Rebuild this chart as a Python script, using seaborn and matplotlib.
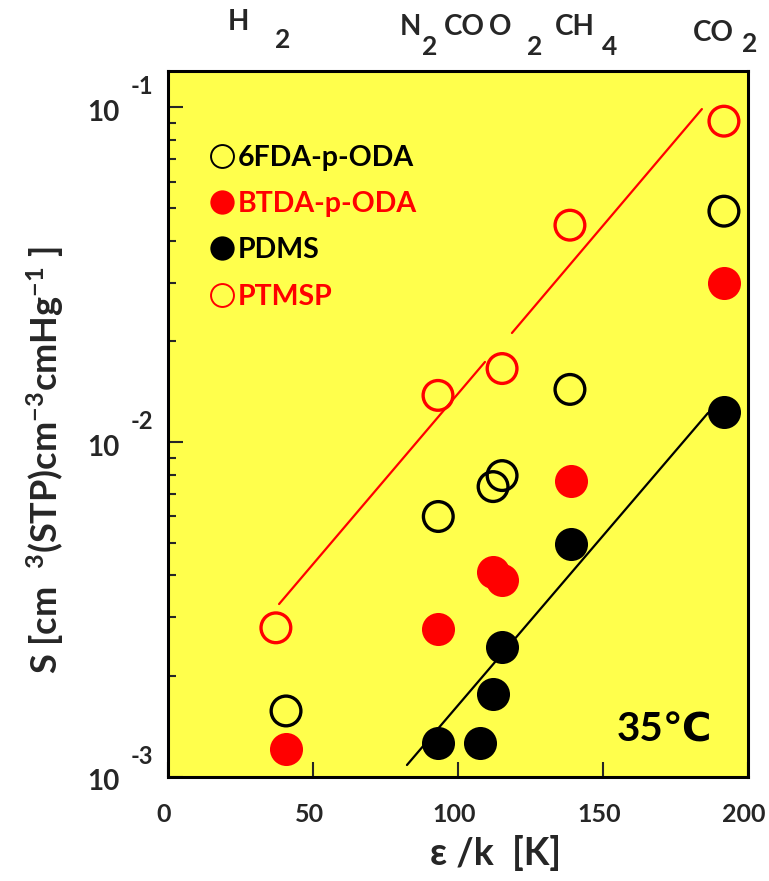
import matplotlib
matplotlib.use("Agg")
import matplotlib.pyplot as plt
import seaborn as sns
from matplotlib.lines import Line2D
from matplotlib.ticker import LogLocator, NullFormatter, FixedLocator, FixedFormatter
from matplotlib.transforms import ScaledTranslation

# ---------------- data ----------------
series_names = ["6FDA-p-ODA", "BTDA-p-ODA", "PDMS", "PTMSP"]

fda_x = [40.7, 93.2, 112.1, 115.2, 138.6, 191.7]
fda_y = [1.575e-3, 6.0e-3, 7.37e-3, 7.95e-3, 1.438e-2, 4.90e-2]

btda_x = [40.7, 93.2, 112.1, 115.2, 139.0, 191.7]
btda_y = [1.213e-3, 2.77e-3, 4.10e-3, 3.88e-3, 7.68e-3, 3.00e-2]

pdms_x = [93.2, 107.6, 112.1, 115.2, 139.0, 191.7]
pdms_y = [1.264e-3, 1.264e-3, 1.77e-3, 2.45e-3, 4.98e-3, 1.227e-2]

ptmsp_x = [37.2, 93.1, 115.2, 138.6, 191.7]
ptmsp_y = [2.79e-3, 1.38e-2, 1.66e-2, 4.45e-2, 9.10e-2]

# correlation lines (end points)
ptmsp_fit1_x = [38.3, 109.3]
ptmsp_fit1_y = [3.286e-3, 1.737e-2]
ptmsp_fit2_x = [118.6, 184.1]
ptmsp_fit2_y = [2.120e-2, 9.89e-2]
pdms_fit_x = [82.4, 186.2]
pdms_fit_y = [1.086e-3, 1.223e-2]

x_ticks = [0, 50, 100, 150, 200]
y_decades = [-3, -2, -1]
gas_labels = [("H", "2"), ("N", "2"), ("CO", ""), ("O", "2"), ("CH", "4"), ("CO", "2")]
temperature_label = "35\u2103"

# ---------------- style ----------------
sns.set_style("ticks")
FONT = ["Lato", "DejaVu Sans"]
plt.rcParams["font.family"] = FONT
plt.rcParams["font.weight"] = "bold"
plt.rcParams["mathtext.fontset"] = "custom"
plt.rcParams["mathtext.rm"] = "Lato:bold"
plt.rcParams["mathtext.it"] = "Lato:bold"
plt.rcParams["mathtext.bf"] = "Lato:bold"
plt.rcParams["mathtext.sf"] = "Lato:bold"
plt.rcParams["mathtext.default"] = "rm"

YELLOW = "#ffff4c"
RED = "#ff0000"
BLACK = "#000000"

W, H = 769, 881
L, R, T, B = 168, 748, 71, 777
fig = plt.figure(figsize=(W / 100, H / 100), dpi=100)
ax = fig.add_axes([L / W, 1 - B / H, (R - L) / W, (B - T) / H])
ax.set_facecolor(YELLOW)

# fit lines
for xs, ys, c in [(ptmsp_fit1_x, ptmsp_fit1_y, RED),
                  (ptmsp_fit2_x, ptmsp_fit2_y, RED),
                  (pdms_fit_x, pdms_fit_y, BLACK)]:
    sns.lineplot(x=xs, y=ys, ax=ax, color=c, linewidth=1.6,
                 estimator=None, sort=False, zorder=2)

S_FILLED = 566
S_OPEN = 458
sns.scatterplot(x=fda_x, y=fda_y, ax=ax, marker="o", s=S_OPEN,
                facecolors="none", edgecolor=BLACK, linewidth=2.4, zorder=3)
sns.scatterplot(x=btda_x, y=btda_y, ax=ax, marker="o", s=S_FILLED,
                color=RED, edgecolor=RED, linewidth=0, zorder=3)
sns.scatterplot(x=pdms_x, y=pdms_y, ax=ax, marker="o", s=S_FILLED,
                color=BLACK, edgecolor=BLACK, linewidth=0, zorder=3)
sns.scatterplot(x=ptmsp_x, y=ptmsp_y, ax=ax, marker="o", s=S_OPEN,
                facecolors="none", edgecolor=RED, linewidth=2.4, zorder=3)

# axes
ax.set_xlim(0, 200)
ax.set_yscale("log")
ax.set_ylim(1e-3, 0.1285)

ax.xaxis.set_major_locator(FixedLocator(x_ticks))
ax.xaxis.set_major_formatter(FixedFormatter([str(v) for v in x_ticks]))
ax.tick_params(axis="x", which="both", direction="in", length=11, width=1.5,
               pad=19, labelsize=18, top=False, bottom=True)

ax.yaxis.set_major_locator(FixedLocator([10.0 ** d for d in y_decades]))
ax.yaxis.set_major_formatter(FixedFormatter(["10"] * len(y_decades)))
ax.yaxis.set_minor_locator(LogLocator(base=10, subs=range(2, 10)))
ax.yaxis.set_minor_formatter(NullFormatter())
ax.tick_params(axis="y", which="major", direction="in", length=11, width=1.5,
               pad=35, labelsize=20, right=False, left=True)
ax.tick_params(axis="y", which="minor", direction="in", length=6, width=1.5,
               right=False, left=True)

for lbl in ax.get_xticklabels():
    lbl.set_fontweight("bold")
    lbl.set_transform(lbl.get_transform() + ScaledTranslation(-4 / 100, 0, fig.dpi_scale_trans))
for lbl in ax.get_yticklabels():
    lbl.set_fontweight("bold")
    lbl.set_transform(lbl.get_transform() + ScaledTranslation(0, -3 / 100, fig.dpi_scale_trans))

for d in y_decades:
    ax.annotate(f"-{abs(d)}", xy=(0, 10.0 ** d), xycoords=ax.get_yaxis_transform(),
                xytext=(-19, 15), textcoords="offset points", ha="center", va="center",
                fontsize=17, fontweight="bold", annotation_clip=False)

for sp in ax.spines.values():
    sp.set_linewidth(2.2)
    sp.set_color(BLACK)

ax.set_xlabel("\u03b5 /k  [K]", fontsize=27, fontweight="bold")
ax.xaxis.set_label_coords((496 - L) / (R - L), (B - 853) / (B - T))
ax.xaxis.label.set_va("center")
ax.set_ylabel(r"S [cm  $^{3}$(STP)cm$^{-3}$cmHg$^{-1}$ ]", fontsize=26, fontweight="bold")
ax.yaxis.set_label_coords((45 - L) / (R - L), (B - 460) / (B - T))
ax.yaxis.label.set_va("center")

# legend
handles = [
    Line2D([], [], ls="none", marker="o", ms=16.5, mfc="none", mec=BLACK, mew=1.4),
    Line2D([], [], ls="none", marker="o", ms=17.5, mfc=RED, mec=RED, mew=0),
    Line2D([], [], ls="none", marker="o", ms=17.5, mfc=BLACK, mec=BLACK, mew=0),
    Line2D([], [], ls="none", marker="o", ms=16.5, mfc="none", mec=RED, mew=1.4),
]
leg = ax.legend(handles, series_names, loc="upper left",
                bbox_to_anchor=((206 - L) / (R - L), (B - 145) / (B - T)),
                frameon=False, handlelength=1.1, handletextpad=0.0,
                labelspacing=0.71, borderpad=0, borderaxespad=0,
                labelcolor=[BLACK, RED, BLACK, RED],
                prop={"weight": "bold", "size": 20.5, "family": FONT})

ax.text((664 - L) / (R - L), (B - 730) / (B - T), temperature_label,
        transform=ax.transAxes, ha="center", va="center", fontsize=29,
        fontweight="bold", color=BLACK)

# gas names above the plot (main text, subscript) at figure pixel positions
gas_pos = [((238, 22), (283, 40)), ((410, 27), (430, 47)), ((464, 27), None),
           ((500, 27), (535, 47)), ((575, 27), (610, 47)), ((713, 33), (750, 44))]
for (main, sub), (pm, ps) in zip(gas_labels, gas_pos):
    fig.text(pm[0] / W, 1 - pm[1] / H, main, ha="center", va="center",
             fontsize=20, fontweight="bold")
    if sub and ps is not None:
        fig.text(ps[0] / W, 1 - ps[1] / H, sub, ha="center", va="center",
                 fontsize=19, fontweight="bold")

fig.savefig("out.png", dpi=100)
